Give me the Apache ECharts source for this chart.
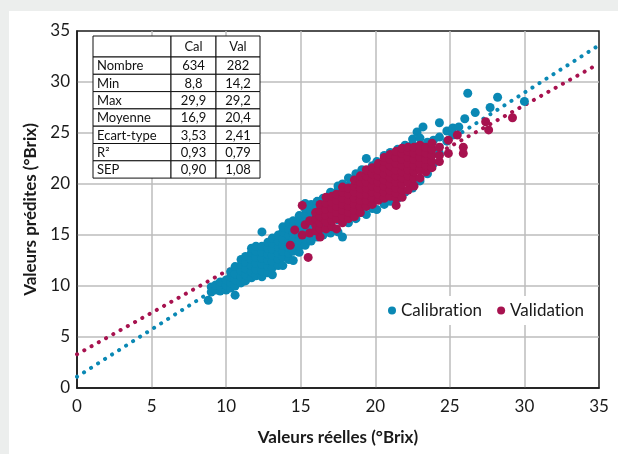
<!DOCTYPE html>
<html>
<head>
<meta charset="utf-8">
<script src="https://cdn.jsdelivr.net/npm/echarts@6/dist/echarts.min.js"></script>
<style>
  html, body { margin: 0; padding: 0; background: #eceeed; }
  #main { position: absolute; left: 9px; top: 11px; width: 609px; height: 443px; background: #fff; }
</style>
</head>
<body>
<div id="main"></div>
<script>
const FONT = 'Lato, "Noto Sans", sans-serif'
const CAL_COLOR = '#0a88b4'
const VAL_COLOR = '#a7124f'

// valeurs réelles / prédites
const calPoints = [
  [8.8,8.6],[9.0,9.4],[9.0,9.9],[9.3,9.6],[9.3,10.1],[9.6,9.5],[9.6,10.0],[9.6,10.4],
  [10.0,9.6],[10.0,10.1],[10.0,10.6],[10.3,9.8],[10.3,10.3],[10.3,10.9],[10.3,11.4],
  [10.6,9.1],[10.6,10.0],[10.6,10.6],[10.6,11.2],[10.6,11.9],
  [11.0,10.3],[11.0,10.9],[11.0,11.5],[11.0,12.1],[11.0,12.6],
  [11.3,10.5],[11.3,11.1],[11.3,11.7],[11.3,12.3],[11.3,12.9],
  [11.7,10.8],[11.7,11.4],[11.7,12.0],[11.7,12.6],[11.7,13.3],[11.7,13.7],
  [12.0,11.0],[12.0,11.6],[12.0,12.2],[12.0,12.8],[12.0,13.4],[12.0,13.9],
  [12.4,10.9],[12.4,11.5],[12.4,12.1],[12.4,12.7],[12.4,13.3],[12.4,13.9],[12.4,15.3],
  [12.8,11.3],[12.8,11.9],[12.8,12.5],[12.8,13.1],[12.8,13.7],[12.8,14.3],
  [13.1,11.1],[13.1,11.8],[13.1,12.4],[13.1,13.0],[13.1,13.6],[13.1,14.2],[13.1,14.7],
  [13.5,12.0],[13.5,12.6],[13.5,13.2],[13.5,13.8],[13.5,14.4],[13.5,15.0],
  [13.8,12.0],[13.8,12.8],[13.8,13.4],[13.8,14.0],[13.8,14.6],[13.8,15.3],[13.8,15.8],
  [14.2,12.6],[14.2,13.2],[14.2,13.8],[14.2,14.4],[14.2,15.0],[14.2,15.6],[14.2,16.2],
  [14.5,12.5],[14.5,13.4],[14.5,14.0],[14.5,14.6],[14.5,15.2],[14.5,15.8],[14.5,16.4],
  [14.9,13.3],[14.9,13.9],[14.9,14.5],[14.9,15.1],[14.9,15.7],[14.9,16.3],[14.9,16.9],
  [15.3,14.0],[15.3,14.6],[15.3,15.2],[15.3,15.8],[15.3,16.4],[15.3,17.0],[15.3,17.6],[15.3,18.1],
  [15.7,14.4],[15.7,15.0],[15.7,15.6],[15.7,16.2],[15.7,16.8],[15.7,17.4],[15.7,18.0],
  [16.1,14.8],[16.1,15.4],[16.1,16.0],[16.1,16.6],[16.1,17.2],[16.1,17.8],[16.1,18.3],
  [16.5,15.0],[16.5,16.0],[16.5,17.0],[16.5,18.0],[16.5,18.6],
  [17.0,15.2],[17.0,16.3],[17.0,17.4],[17.0,18.6],[17.0,19.2],
  [17.5,15.3],[17.5,16.5],[17.5,19.4],[17.5,19.8],[17.8,14.8],[17.8,20.0],
  [18.2,16.2],[18.2,19.8],[18.2,20.6],[18.7,16.6],[18.7,21.0],[19.1,17.2],[19.1,21.4],
  [19.4,17.0],[19.4,22.5],[19.8,17.6],[19.8,21.8],[20.1,17.5],[20.1,22.2],
  [20.6,18.0],[20.6,22.8],[21.0,18.3],[21.0,23.1],[21.5,18.6],[21.5,23.4],
  [22.0,19.2],[22.0,23.8],[22.5,19.6],[22.5,23.9],[22.5,24.4],[22.8,25.1],
  [23.0,20.3],[23.0,24.5],[23.2,25.6],[23.5,21.0],[23.5,24.1],[23.9,22.0],[23.9,24.3],
  [24.3,23.0],[24.3,24.6],[24.3,26.0],[24.8,24.2],[24.8,25.2],[25.2,24.8],[25.2,25.5],
  [25.6,25.6],[26.0,26.4],[26.2,28.9],[26.7,27.0],[27.7,27.5],[28.2,28.5],[30.0,28.1]
]

const valPoints = [
  [14.3,14.0],[14.6,15.5],[15.1,15.0],[15.1,17.9],[15.5,12.8],[15.3,16.0],[16.0,16.0],[16.3,14.8],
  [15.6,15.2],[15.6,16.4],[16.0,15.4],[16.0,16.6],[16.0,17.2],
  [16.3,15.6],[16.3,16.2],[16.3,16.8],[16.3,17.4],[16.3,18.0],
  [16.7,15.6],[16.7,16.3],[16.7,16.9],[16.7,17.5],[16.7,18.1],[16.7,18.7],
  [17.1,15.8],[17.1,16.4],[17.1,17.0],[17.1,17.6],[17.1,18.2],[17.1,18.8],
  [17.4,15.6],[17.4,16.6],[17.4,17.2],[17.4,17.8],[17.4,18.4],[17.4,19.0],
  [17.8,16.2],[17.8,16.8],[17.8,17.4],[17.8,18.0],[17.8,18.6],[17.8,19.2],[17.8,19.7],
  [18.2,16.6],[18.2,17.2],[18.2,17.8],[18.2,18.4],[18.2,19.0],[18.2,19.6],
  [18.6,16.8],[18.6,17.4],[18.6,18.0],[18.6,18.6],[18.6,19.2],[18.6,19.8],[18.6,20.4],
  [19.0,17.2],[19.0,17.8],[19.0,18.4],[19.0,19.0],[19.0,19.6],[19.0,20.2],[19.0,20.8],
  [19.4,17.8],[19.4,18.4],[19.4,19.0],[19.4,19.6],[19.4,20.2],[19.4,20.8],[19.4,21.4],
  [19.8,18.0],[19.8,18.6],[19.8,19.2],[19.8,19.8],[19.8,20.4],[19.8,21.0],[19.8,21.6],
  [20.2,18.4],[20.2,19.0],[20.2,19.6],[20.2,20.2],[20.2,20.8],[20.2,21.4],[20.2,22.0],
  [20.6,18.6],[20.6,19.2],[20.6,19.8],[20.6,20.4],[20.6,21.0],[20.6,21.6],[20.6,22.2],[20.6,22.6],
  [21.0,18.8],[21.0,19.4],[21.0,20.0],[21.0,20.6],[21.0,21.2],[21.0,21.8],[21.0,22.4],[21.0,22.9],
  [21.4,17.9],[21.4,18.6],[21.4,19.1],[21.4,19.6],[21.4,20.2],[21.4,20.8],[21.4,21.4],[21.4,22.0],[21.4,22.6],[21.4,23.2],
  [21.8,18.7],[21.8,19.4],[21.8,20.0],[21.8,20.6],[21.8,21.2],[21.8,21.8],[21.8,22.4],[21.8,23.0],[21.8,23.5],
  [22.2,19.4],[22.2,20.2],[22.2,20.8],[22.2,21.4],[22.2,22.0],[22.2,22.6],[22.2,23.2],[22.2,23.6],
  [22.6,19.8],[22.6,20.6],[22.6,21.2],[22.6,21.8],[22.6,22.4],[22.6,23.0],[22.6,23.6],
  [23.0,20.6],[23.0,21.4],[23.0,22.0],[23.0,22.6],[23.0,23.2],[23.0,23.8],
  [23.4,21.2],[23.4,21.8],[23.4,22.4],[23.4,23.0],[23.4,23.6],
  [23.8,21.6],[23.8,22.2],[23.8,22.8],[23.8,23.4],[23.8,24.0],
  [24.3,22.2],[24.3,22.8],[24.3,23.6],[24.9,23.0],[24.9,24.3],[25.5,24.8],[25.9,23.6],[25.9,23.0],
  [27.4,26.1],[27.6,25.3],[29.2,26.5]
]

// droites de régression (extrémités)
const calFit = [[0, 1.1], [35, 33.6]]
const valFit = [[0, 3.3], [35, 31.8]]

// tableau des statistiques
const statHeaders = ['', 'Cal', 'Val']
const statLabels = ['Nombre', 'Min', 'Max', 'Moyenne', 'Ecart-type', 'R²', 'SEP']
const calStats = ['634', '8,8', '29,9', '16,9', '3,53', '0,93', '0,90']
const valStats = ['282', '14,2', '29,2', '20,4', '2,41', '0,79', '1,08']

const chart = echarts.init(document.getElementById('main'))

// table drawn as graphic cells
const colX = [84, 162, 207, 251]
const headH = 21
const rowH = 17.3
const tableTop = 25
const cells = []
const addCell = (c, y, h, text) => {
  const x = colX[c]
  const w = colX[c + 1] - colX[c]
  cells.push({
    type: 'rect', z: 10,
    shape: { x, y, width: w, height: h },
    style: { fill: '#fff', stroke: '#111', lineWidth: 1 }
  })
  if (text) {
    cells.push({
      type: 'text', z: 11,
      x: c === 0 ? x + 4 : x + w / 2,
      y: y + h / 2 + 0.5,
      style: {
        text, fill: '#111', fontSize: 13, fontFamily: FONT,
        align: c === 0 ? 'left' : 'center', verticalAlign: 'middle',
        textAlign: c === 0 ? 'left' : 'center', textVerticalAlign: 'middle'
      }
    })
  }
}
statHeaders.forEach((h, c) => addCell(c, tableTop, headH, h))
statLabels.forEach((label, i) => {
  const y = tableTop + headH + i * rowH
  addCell(0, y, rowH, label)
  addCell(1, y, rowH, calStats[i])
  addCell(2, y, rowH, valStats[i])
})

const axisCommon = {
  type: 'value',
  min: 0,
  max: 35,
  interval: 5,
  nameLocation: 'middle',
  nameTextStyle: { fontFamily: FONT, fontSize: 17, fontWeight: 'bold', color: '#1a1a1a' },
  axisLine: { lineStyle: { color: '#1a1a1a', width: 1.5 } },
  axisTick: { show: false },
  axisLabel: { fontFamily: FONT, fontSize: 17, color: '#1a1a1a' },
  splitLine: {
    show: true, showMinLine: false, showMaxLine: false,
    lineStyle: { color: '#bcbcbc', width: 1.5 }
  }
}

const legendText = { fontFamily: FONT, fontSize: 17, color: '#1a1a1a' }

chart.setOption({
  animation: false,
  grid: {
    left: 68, right: 19, top: 20, bottom: 66,
    show: true, borderColor: '#1a1a1a', borderWidth: 1.5,
    containLabel: false
  },
  xAxis: Object.assign({}, axisCommon, {
    name: 'Valeurs réelles (°Brix)',
    nameGap: 41,
    axisLabel: Object.assign({}, axisCommon.axisLabel, { margin: 10 })
  }),
  yAxis: Object.assign({}, axisCommon, {
    name: 'Valeurs prédites (°Brix)',
    nameGap: 34,
    axisLabel: Object.assign({}, axisCommon.axisLabel, { margin: 7 })
  }),
  legend: {
    data: ['Calibration', 'Validation'],
    left: 375,
    top: 285,
    icon: 'circle',
    itemWidth: 8,
    itemHeight: 8,
    itemGap: 15,
    padding: [6, 4],
    backgroundColor: '#fff',
    // split before "ion" so Lato does not draw its "ti" ligature
    formatter: (name) => {
      const k = name.indexOf('ion')
      return `{a|${name.slice(0, k)}}{a|${name.slice(k)}}`
    },
    textStyle: Object.assign({}, legendText, { rich: { a: legendText } })
  },
  graphic: { elements: cells },
  series: [
    {
      name: 'Cal fit',
      type: 'line',
      data: calFit,
      symbol: 'none',
      silent: true,
      z: 1,
      lineStyle: { color: CAL_COLOR, width: 4, type: [0.1, 8.2], cap: 'round' }
    },
    {
      name: 'Val fit',
      type: 'line',
      data: valFit,
      symbol: 'none',
      silent: true,
      z: 1,
      lineStyle: { color: VAL_COLOR, width: 4, type: [0.1, 8.2], cap: 'round' }
    },
    {
      name: 'Calibration',
      type: 'scatter',
      data: calPoints,
      symbolSize: 9,
      z: 2,
      itemStyle: { color: CAL_COLOR, opacity: 1 }
    },
    {
      name: 'Validation',
      type: 'scatter',
      data: valPoints,
      symbolSize: 9,
      z: 2,
      itemStyle: { color: VAL_COLOR, opacity: 1 }
    }
  ]
})
</script>
</body>
</html>
